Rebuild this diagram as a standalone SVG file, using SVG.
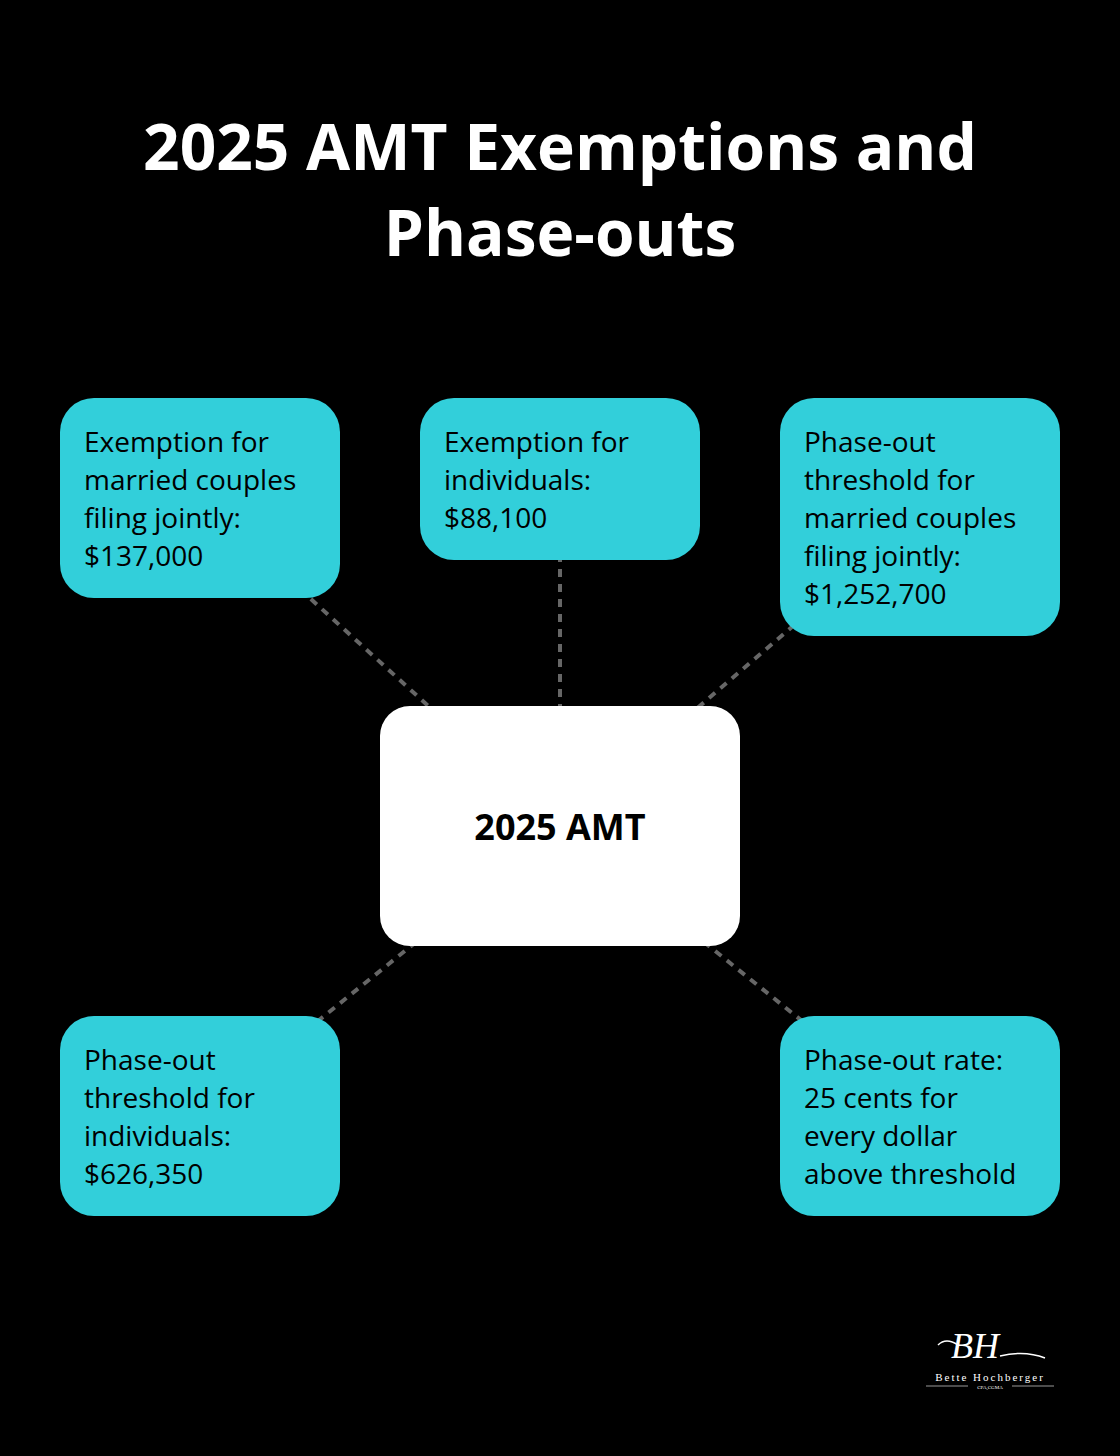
<svg xmlns="http://www.w3.org/2000/svg" width="1120" height="1456" viewBox="0 0 1120 1456">
<style>
.box{fill:#32CFDA}
.t{font-family:"Open Sans",sans-serif;font-size:28px;fill:#000}
.title{font-family:"Open Sans",sans-serif;font-size:64px;font-weight:bold;fill:#fff;text-anchor:middle}
.c{stroke:#666;stroke-width:4;stroke-dasharray:8 7;fill:none}
</style>
<rect width="1120" height="1456" fill="#000"/>
<text class="title" x="560" y="170">2025 AMT Exemptions and</text>
<text class="title" x="560" y="256">Phase-outs</text>
<g id="connectors">
<line class="c" x1="200" y1="498" x2="560" y2="826"/>
<line class="c" x1="560" y1="479" x2="560" y2="826"/>
<line class="c" x1="920" y1="517" x2="560" y2="826"/>
<line class="c" x1="200" y1="1116" x2="560" y2="826"/>
<line class="c" x1="920" y1="1116" x2="560" y2="826"/>
</g>
<g id="center"><rect x="380" y="706" width="360" height="240" rx="30" fill="#fff"/>
<text x="560" y="840" text-anchor="middle" font-family="Open Sans, sans-serif" font-weight="bold" font-size="36">2025 AMT</text></g>
<g id="n1"><rect class="box" x="60" y="398" width="280" height="200" rx="34"/>
<text class="t" x="84" y="452">Exemption for</text><text class="t" x="84" y="490">married couples</text><text class="t" x="84" y="528">filing jointly:</text><text class="t" x="84" y="566">$137,000</text></g>
<g id="n2"><rect class="box" x="420" y="398" width="280" height="162" rx="34"/>
<text class="t" x="444" y="452">Exemption for</text><text class="t" x="444" y="490">individuals:</text><text class="t" x="444" y="528">$88,100</text></g>
<g id="n3"><rect class="box" x="780" y="398" width="280" height="238" rx="34"/>
<text class="t" x="804" y="452">Phase-out</text><text class="t" x="804" y="490">threshold for</text><text class="t" x="804" y="528">married couples</text><text class="t" x="804" y="566">filing jointly:</text><text class="t" x="804" y="604">$1,252,700</text></g>
<g id="n4"><rect class="box" x="60" y="1016" width="280" height="200" rx="34"/>
<text class="t" x="84" y="1070">Phase-out</text><text class="t" x="84" y="1108">threshold for</text><text class="t" x="84" y="1146">individuals:</text><text class="t" x="84" y="1184">$626,350</text></g>
<g id="n5"><rect class="box" x="780" y="1016" width="280" height="200" rx="34"/>
<text class="t" x="804" y="1070">Phase-out rate:</text><text class="t" x="804" y="1108">25 cents for</text><text class="t" x="804" y="1146">every dollar</text><text class="t" x="804" y="1184">above threshold</text></g>
<g id="logo" fill="#fff" font-family="Liberation Serif, serif" text-anchor="middle">
<text x="975" y="1358" font-size="36" font-style="italic">BH</text>
<path d="M938 1345 q8-8 20 0 M1000 1356 q25-6 45 2" stroke="#fff" stroke-width="1.5" fill="none"/>
<text x="990" y="1381" font-size="11" letter-spacing="2">Bette Hochberger</text>
<text x="990" y="1389" font-size="5">CPA,CGMA</text>
<line x1="926" y1="1386" x2="968" y2="1386" stroke="#fff" stroke-width="0.6"/>
<line x1="1012" y1="1386" x2="1054" y2="1386" stroke="#fff" stroke-width="0.6"/>
</g>
</svg>
